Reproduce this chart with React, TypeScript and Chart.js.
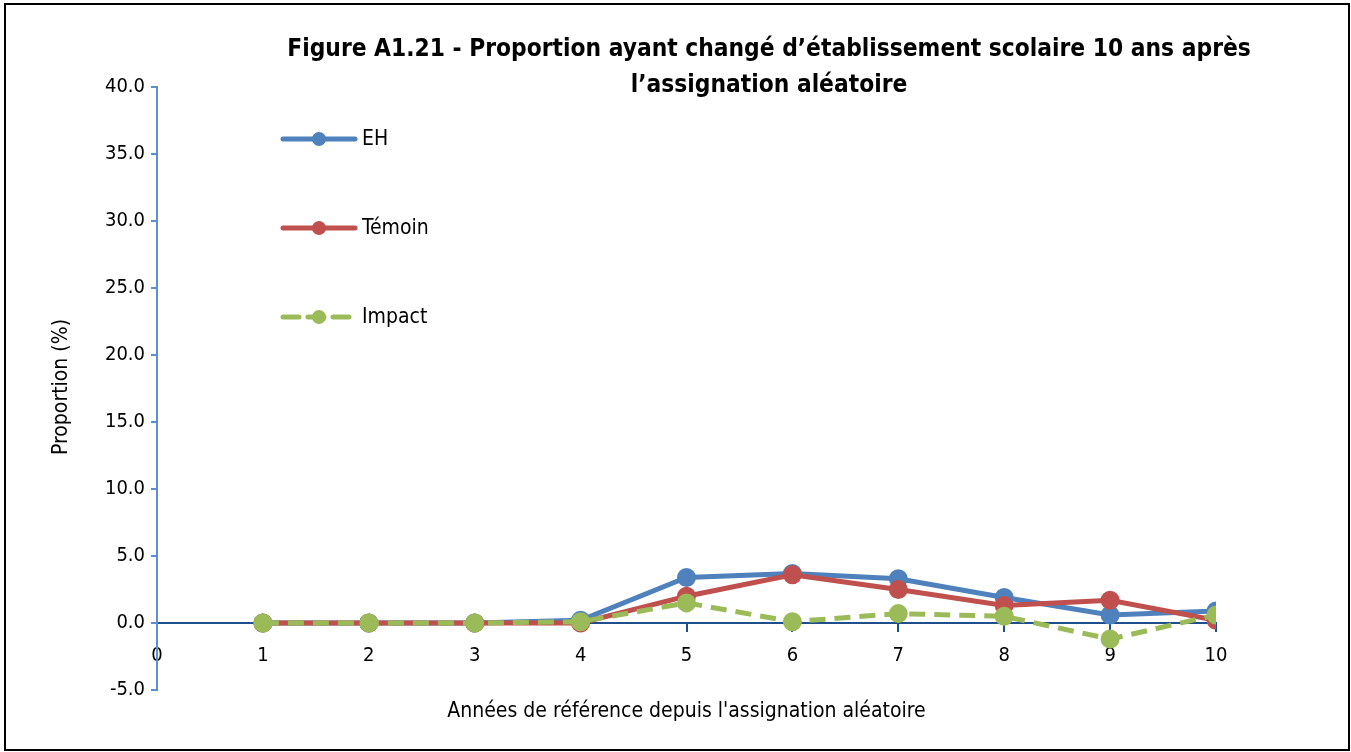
import React, { useEffect, useRef } from "react";
import { Chart, registerables } from "chart.js";

Chart.register(...registerables);

const categories = [1, 2, 3, 4, 5, 6, 7, 8, 9, 10];
const ehValues = [0, 0, 0, 0.2, 3.4, 3.7, 3.3, 1.9, 0.6, 0.9];
const temoinValues = [0, 0, 0, 0, 2.0, 3.6, 2.5, 1.3, 1.7, 0.2];
const impactValues = [0, 0, 0, 0.1, 1.5, 0.1, 0.7, 0.5, -1.2, 0.6];
const seriesNames = ["EH", "Témoin", "Impact"];
const titleLines = [
  "Figure A1.21 - Proportion ayant changé d’établissement scolaire 10 ans après",
  "l’assignation aléatoire",
];
const xTitle = "Années de référence depuis l'assignation aléatoire";
const yTitle = "Proportion (%)";

const FONT = "'Liberation Sans Narrow', 'DejaVu Sans Condensed', 'Liberation Sans', sans-serif";

const decorPlugin = {
  id: "decor",
  afterDraw(chart: any) {
    const ctx = chart.ctx;
    const ca = chart.chartArea;
    ctx.save();
    // frame
    ctx.strokeStyle = "#000";
    ctx.lineWidth = 2;
    ctx.strokeRect(5, 4, 1344, 746);
    // title
    ctx.fillStyle = "#000";
    ctx.font = `bold 24.3px ${FONT}`;
    ctx.textAlign = "center";
    ctx.textBaseline = "middle";
    ctx.fillText(titleLines[0], 769, 50);
    ctx.fillText(titleLines[1], 769, 86);
    // x title
    ctx.font = `21px ${FONT}`;
    ctx.fillText(xTitle, (ca.left + ca.right) / 2, 712);
    // y title
    ctx.save();
    ctx.translate(62, 387);
    ctx.rotate(-Math.PI / 2);
    ctx.fillText(yTitle, 0, 0);
    ctx.restore();
    // legend
    chart.data.datasets.forEach((ds: any, i: number) => {
      const y = ca.top + 52 + i * 89;
      const x0 = ca.left + 126;
      const x1 = ca.left + 198;
      ctx.strokeStyle = ds.borderColor;
      ctx.lineWidth = 5;
      ctx.lineCap = "round";
      ctx.setLineDash(ds.borderDash || []);
      ctx.beginPath();
      ctx.moveTo(x0, y);
      ctx.lineTo(x1, y);
      ctx.stroke();
      ctx.setLineDash([]);
      ctx.fillStyle = ds.pointBackgroundColor;
      ctx.beginPath();
      ctx.arc((x0 + x1) / 2, y, 7, 0, Math.PI * 2);
      ctx.fill();
      ctx.fillStyle = "#000";
      ctx.textAlign = "left";
      ctx.font = `21px ${FONT}`;
      ctx.fillText(ds.label, x1 + 7, y + 1);
    });
    ctx.restore();
  },
};

export default function App() {
  const ref = useRef<HTMLCanvasElement>(null);
  useEffect(() => {
    document.body.style.margin = "0";
    document.body.style.overflow = "hidden";
    const mk = (vals: number[]) => categories.map((c, i) => ({ x: c, y: vals[i] }));
    const chart = new Chart(ref.current!, {
      type: "line",
      data: {
        datasets: [
          {
            label: seriesNames[0],
            data: mk(ehValues),
            borderColor: "#4F81BD",
            backgroundColor: "#4F81BD",
            pointBackgroundColor: "#4F81BD",
            pointBorderColor: "#4F81BD",
            borderWidth: 5,
            pointRadius: 7,
            order: 3,
          },
          {
            label: seriesNames[1],
            data: mk(temoinValues),
            borderColor: "#C0504D",
            backgroundColor: "#C0504D",
            pointBackgroundColor: "#C0504D",
            pointBorderColor: "#C0504D",
            borderWidth: 5,
            pointRadius: 7,
            order: 2,
          },
          {
            label: seriesNames[2],
            data: mk(impactValues),
            borderColor: "#9BBB59",
            backgroundColor: "#9BBB59",
            pointBackgroundColor: "#9BBB59",
            pointBorderColor: "#9BBB59",
            borderWidth: 5,
            borderDash: [16, 9],
            pointRadius: 7,
            order: 1,
          },
        ],
      },
      options: {
        animation: false,
        responsive: true,
        maintainAspectRatio: false,
        layout: { padding: { left: 0, top: 87, right: 135, bottom: 62 } },
        plugins: { legend: { display: false }, tooltip: { enabled: false }, title: { display: false } },
        scales: {
          x: {
            type: "linear",
            position: { y: 0 } as any,
            min: 0,
            max: 10,
            ticks: { stepSize: 1, padding: 13, color: "#000", font: { family: FONT, size: 20 } },
            grid: { drawOnChartArea: false, drawTicks: true, tickLength: 8, color: "#1F4E8C", lineWidth: 2 },
            border: { color: "#1F4E8C", width: 2 },
          },
          y: {
            min: -5,
            max: 40,
            afterFit(scale: any) {
              scale.width = 157;
            },
            ticks: {
              stepSize: 5,
              padding: 6,
              color: "#000",
              font: { family: FONT, size: 20 },
              callback: (v: any) => Number(v).toFixed(1),
            },
            grid: { drawOnChartArea: false, drawTicks: true, tickLength: 6, color: "#5B8FD0", lineWidth: 2 },
            border: { color: "#5B8FD0", width: 2 },
          },
        },
      },
      plugins: [decorPlugin],
    });
    return () => chart.destroy();
  }, []);
  return (
    <div style={{ position: "fixed", left: 0, top: 0, width: 1351, height: 752, background: "#fff" }}>
      <canvas ref={ref} />
    </div>
  );
}
